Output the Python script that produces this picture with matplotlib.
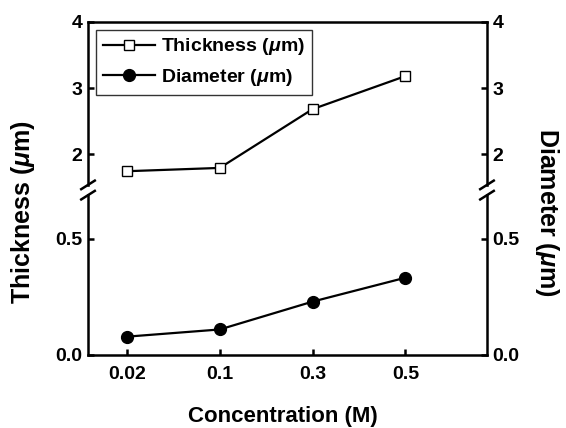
import matplotlib
matplotlib.use("Agg")
import matplotlib.pyplot as plt

# data
concentration = ["0.02", "0.1", "0.3", "0.5"]
thickness = [1.74, 1.79, 2.68, 3.18]
diameter = [0.079, 0.11, 0.23, 0.333]

plt.rcParams["font.family"] = ["Liberation Sans", "DejaVu Sans"]
plt.rcParams["font.weight"] = "bold"
plt.rcParams["mathtext.fontset"] = "custom"
plt.rcParams["mathtext.it"] = "Liberation Sans:italic:bold"
plt.rcParams["mathtext.rm"] = "Liberation Sans:bold"

fig = plt.figure(figsize=(5.66, 4.28), dpi=100)
L, R, B, T, M = 0.1555, 0.8604, 0.1706, 0.9486, 0.556
ax_top = fig.add_axes([L, M, R - L, T - M])
ax_bot = fig.add_axes([L, B, R - L, M - B], sharex=ax_top)

x = list(range(len(concentration)))

ax_top.plot(x, thickness, "-s", color="black", lw=1.6, ms=7.5,
            mfc="white", mec="black", mew=1.0, label="Thickness ($\\mathit{\\mu}$m)")
ax_bot.plot(x, diameter, "-o", color="black", lw=1.6, ms=8.5,
            mfc="black", mec="black", label="Diameter ($\\mathit{\\mu}$m)")

ax_top.set_ylim(1.455, 4)
ax_top.set_yticks([2, 3, 4])
ax_bot.set_ylim(0, 0.711)
ax_bot.set_yticks([0.0, 0.5])
ax_bot.set_yticklabels(["0.0", "0.5"])
ax_bot.set_xlim(-0.42, 3.88)
ax_bot.set_xticks(x)
ax_bot.set_xticklabels(concentration)

for ax in (ax_top, ax_bot):
    for s in ax.spines.values():
        s.set_linewidth(1.8)
    ax.tick_params(direction="in", length=4, width=1.8, labelsize=14,
                   left=True, right=True, labelleft=True, labelright=True, pad=4)
ax_top.spines["bottom"].set_visible(False)
ax_bot.spines["top"].set_visible(False)
ax_top.tick_params(bottom=False, labelbottom=False)
ax_bot.tick_params(top=False)
ax_bot.tick_params(axis="x", pad=8)

# break marks on both spines
for xs in (0.0, 1.0):
    for dy in (-0.012, 0.012):
        fig.lines.append(plt.Line2D(
            [L + (R - L) * xs - 0.012, L + (R - L) * xs + 0.012],
            [M + dy - 0.01, M + dy + 0.01],
            transform=fig.transFigure, color="black", lw=1.8))
    fig.patches.append(plt.Rectangle(
        (L + (R - L) * xs - 0.004, M - 0.008), 0.008, 0.016,
        transform=fig.transFigure, color="white", zorder=0))

handles = ax_top.get_legend_handles_labels()[0] + ax_bot.get_legend_handles_labels()[0]
leg = ax_top.legend(handles=handles, loc="upper left", bbox_to_anchor=(0.02, 0.955),
                    fontsize=14, frameon=True, fancybox=False, borderpad=0.35,
                    handlelength=2.7, handletextpad=0.3, labelspacing=0.5,
                    borderaxespad=0)
leg.get_frame().set_edgecolor("black")
leg.get_frame().set_linewidth(1.0)

fig.text(0.040, 0.505, "Thickness ($\\mathit{\\mu}$m)", rotation=90,
         ha="center", va="center", fontsize=18, fontweight="bold")
fig.text(0.966, 0.505, "Diameter ($\\mathit{\\mu}$m)", rotation=270,
         ha="center", va="center", fontsize=18, fontweight="bold")
fig.text((L + R) / 2 - 0.008, 0.028, "Concentration (M)", ha="center", va="center",
         fontsize=16, fontweight="bold")

fig.savefig("out.png", dpi=100)
